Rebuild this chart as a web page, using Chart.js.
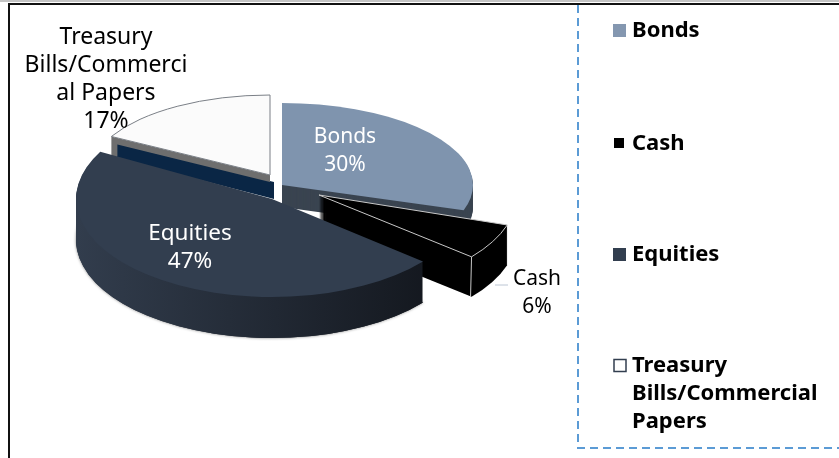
<!DOCTYPE html>
<html>
<head>
<meta charset="utf-8">
<style>
  html, body { margin: 0; padding: 0; background: #fff; overflow: hidden; }
  canvas { display: block; }
</style>
<script src="https://cdn.jsdelivr.net/npm/chart.js@4"></script>
</head>
<body>
<canvas id="allocationChart" width="839" height="458"></canvas>
<script>
const categories = ["Bonds", "Cash", "Equities", "Treasury Bills/Commercial Papers"];
const shareValues = [30, 6, 47, 17];
const dataLabelLines = [["Bonds", "30%"], ["Cash", "6%"], ["Equities", "47%"], ["Treasury", "Bills/Commerci", "al Papers", "17%"]];
const legendLines = [["Bonds"], ["Cash"], ["Equities"], ["Treasury", "Bills/Commercial", "Papers"]];
const sliceColors = ["#7f94ae", "#000000", "#323e4f", "#fbfbfb"];

// fake 3D: every slice gets its own centre and radii, back slices first
const BASE_RADIUS = 100;
const placement = [
  { cx: 282, cy: 185, rx: 191, ry: 82, depth: 22 },
  { cx: 319, cy: 195, rx: 198, ry: 97, depth: 40 },
  { cx: 272, cy: 199, rx: 196, ry: 98, depth: 41 },
  { cx: 270, cy: 175, rx: 181, ry: 80, depth: 0 }
];
const paintOrder = [3, 0, 1, 2];
const labelAnchors = [
  { x: 345, y: 137, color: "#ffffff", size: 21 },
  { x: 537, y: 279, color: "#000000", size: 21 },
  { x: 190, y: 234, color: "#ffffff", size: 22.5 },
  { x: 106, y: 37, color: "#000000", size: 23 }
];
const legendRows = [31, 144, 255, 366];
const LABEL_FAMILY = '"Noto Sans"';
const LEGEND_FONT = 'bold 22px "Noto Sans"';

function slicePath(ctx, arc, place, shift) {
  ctx.save();
  ctx.translate(place.cx, place.cy + shift);
  ctx.scale(place.rx / arc.outerRadius, place.ry / arc.outerRadius);
  ctx.translate(-arc.x, -arc.y);
  ctx.beginPath();
  ctx.moveTo(arc.x, arc.y);
  ctx.arc(arc.x, arc.y, arc.outerRadius, arc.startAngle, arc.endAngle);
  ctx.closePath();
  ctx.restore();
}

function rimPoint(place, angle) {
  return { x: place.cx + Math.cos(angle) * place.rx, y: place.cy + Math.sin(angle) * place.ry };
}

function fillQuad(ctx, points, color) {
  ctx.beginPath();
  points.forEach((p, i) => (i ? ctx.lineTo(p.x, p.y) : ctx.moveTo(p.x, p.y)));
  ctx.closePath();
  ctx.fillStyle = color;
  ctx.fill();
}

function drawTreasury(ctx, arc, place) {
  const apex = { x: place.cx, y: place.cy };
  const rim = rimPoint(place, arc.startAngle);
  // the two bands under the cut edge
  fillQuad(ctx, [
    { x: rim.x + 5, y: rim.y + 7 }, { x: apex.x + 4, y: apex.y + 7 },
    { x: apex.x + 4, y: apex.y + 24 }, { x: rim.x + 5, y: rim.y + 22 }
  ], "#0a2645");
  fillQuad(ctx, [
    rim, apex, { x: apex.x, y: apex.y + 7 }, { x: rim.x + 6, y: rim.y + 8 },
    { x: rim.x + 6, y: rim.y + 20 }, { x: rim.x, y: rim.y + 20 }
  ], "#6e6e6e");
  slicePath(ctx, arc, place, 0);
  ctx.fillStyle = sliceColors[3];
  ctx.fill();
  ctx.strokeStyle = "#7a7f86";
  ctx.lineWidth = 1;
  ctx.stroke();
}

function wallGradient(ctx, place, from, to) {
  const gradient = ctx.createLinearGradient(place.cx - place.rx, 0, place.cx + place.rx * 0.8, 0);
  gradient.addColorStop(0, from);
  gradient.addColorStop(1, to);
  return gradient;
}

const piePlugin = {
  id: "fake3d",
  beforeDatasetsDraw(chart) {
    const ctx = chart.ctx;
    const arcs = chart.getDatasetMeta(0).data;
    paintOrder.forEach((index) => {
      const arc = arcs[index];
      const place = placement[index];
      if (index === 3) {
        drawTreasury(ctx, arc, place);
        return;
      }
      // side wall
      ctx.fillStyle = index === 2
        ? wallGradient(ctx, place, "#323d4d", "#14181f")
        : index === 1 ? "#000000" : "#3a4450";
      if (index === 2) {
        ctx.save();
        ctx.shadowColor = "rgba(60,60,60,0.7)";
        ctx.shadowBlur = 3;
        slicePath(ctx, arc, place, place.depth);
        ctx.fill();
        ctx.restore();
      }
      for (let d = place.depth; d > 0; d--) {
        slicePath(ctx, arc, place, d);
        ctx.fill();
      }
      slicePath(ctx, arc, place, 0);
      ctx.fillStyle = sliceColors[index];
      ctx.fill();
      if (index === 1) {
        ctx.strokeStyle = "#c8c8c8";
        ctx.lineWidth = 1;
        ctx.stroke();
        const corner = rimPoint(place, arc.endAngle);
        ctx.beginPath();
        ctx.moveTo(corner.x, corner.y);
        ctx.lineTo(corner.x - 1, corner.y + place.depth);
        ctx.stroke();
      }
    });
    return false;
  },
  afterDraw(chart) {
    const ctx = chart.ctx;
    drawFrame(ctx);
    drawDataLabels(ctx);
    drawLegend(ctx);
  }
};

function drawFrame(ctx) {
  ctx.save();
  ctx.strokeStyle = "#c4c4c4";
  ctx.lineWidth = 2;
  ctx.beginPath();
  ctx.moveTo(0, 1);
  ctx.lineTo(839, 1);
  ctx.stroke();
  ctx.strokeStyle = "#111111";
  ctx.lineWidth = 2;
  ctx.beginPath();
  ctx.moveTo(9, 458);
  ctx.lineTo(9, 4);
  ctx.lineTo(839, 4);
  ctx.stroke();
  ctx.strokeStyle = "#5b9bd5";
  ctx.lineWidth = 2;
  ctx.setLineDash([8, 5]);
  ctx.beginPath();
  ctx.moveTo(578, 5);
  ctx.lineTo(578, 448);
  ctx.lineTo(839, 448);
  ctx.stroke();
  ctx.restore();
}

function drawDataLabels(ctx) {
  // leader line for the cash label
  ctx.strokeStyle = "#bcc6d4";
  ctx.lineWidth = 1;
  ctx.beginPath();
  ctx.moveTo(495, 285);
  ctx.lineTo(508, 285);
  ctx.stroke();
  ctx.textAlign = "center";
  ctx.textBaseline = "middle";
  dataLabelLines.forEach((lines, index) => {
    const anchor = labelAnchors[index];
    ctx.font = `${anchor.size}px ${LABEL_FAMILY}`;
    ctx.fillStyle = anchor.color;
    lines.forEach((line, row) => ctx.fillText(line, anchor.x, anchor.y + row * 28));
  });
}

function drawLegend(ctx) {
  ctx.font = LEGEND_FONT;
  ctx.textAlign = "left";
  ctx.textBaseline = "middle";
  legendLines.forEach((lines, index) => {
    const y = legendRows[index];
    if (index === 3) {
      ctx.fillStyle = "#ffffff";
      ctx.strokeStyle = "#323e4f";
      ctx.lineWidth = 1.5;
      ctx.fillRect(614, y - 6.5, 12, 12);
      ctx.strokeRect(614, y - 6.5, 12, 12);
    } else if (index === 1) {
      ctx.fillStyle = sliceColors[index];
      ctx.fillRect(614, y - 6, 10, 10);
    } else {
      ctx.fillStyle = index === 0 ? "#8497b0" : sliceColors[index];
      ctx.fillRect(613, y - 7, 13, 13);
    }
    ctx.fillStyle = "#000000";
    lines.forEach((line, row) => ctx.fillText(line, 632, y + row * 28));
  });
}

new Chart(document.getElementById("allocationChart"), {
  type: "pie",
  data: {
    labels: categories,
    datasets: [{ data: shareValues, backgroundColor: sliceColors, borderWidth: 0 }]
  },
  options: {
    responsive: false,
    animation: false,
    radius: BASE_RADIUS,
    plugins: { legend: { display: false }, tooltip: { enabled: false } }
  },
  plugins: [piePlugin]
});
</script>
</body>
</html>
